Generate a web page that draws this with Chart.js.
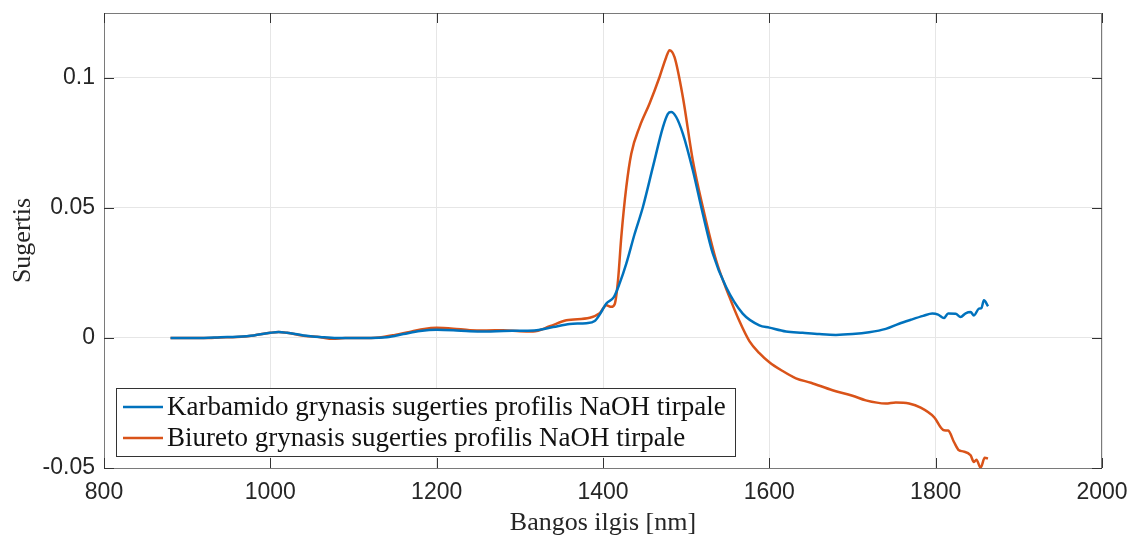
<!DOCTYPE html>
<html>
<head>
<meta charset="utf-8">
<script src="https://cdn.jsdelivr.net/npm/chart.js@4.4.0/dist/chart.umd.min.js"></script>
<style>
  html, body { margin: 0; padding: 0; background: #fff; }
  #wrap { width: 1132px; height: 539px; }
</style>
</head>
<body>
<div id="wrap"><canvas id="c"></canvas></div>
<script>
// wavelength [nm] and absorbance
const karbWl = [880, 900, 920, 940, 960, 980, 1000, 1010, 1020, 1040, 1060, 1080, 1100, 1120, 1140, 1160, 1180, 1200, 1220, 1240, 1260, 1280, 1300, 1320, 1340, 1360, 1380, 1390, 1396, 1404, 1413, 1420, 1428, 1438, 1448, 1460, 1472, 1478, 1482, 1488, 1496, 1508, 1520, 1532, 1548, 1568, 1588, 1600, 1620, 1640, 1660, 1680, 1700, 1720, 1740, 1756, 1770, 1785, 1796, 1803, 1810, 1815, 1824, 1830, 1836, 1842, 1846, 1852, 1855, 1858, 1863];
const karbVal = [0, 0, 0, 0.0003, 0.0005, 0.001, 0.002, 0.0023, 0.002, 0.001, 0.0004, 0, 0, 0, 0.0003, 0.0015, 0.0027, 0.0032, 0.003, 0.0026, 0.0025, 0.0027, 0.0028, 0.003, 0.0042, 0.0054, 0.0057, 0.0065, 0.009, 0.0133, 0.0157, 0.021, 0.0286, 0.04, 0.0504, 0.0658, 0.081, 0.0862, 0.0869, 0.085, 0.0786, 0.0645, 0.0478, 0.0325, 0.0196, 0.0094, 0.0049, 0.004, 0.0025, 0.002, 0.0015, 0.0012, 0.0015, 0.0022, 0.0035, 0.0055, 0.007, 0.0085, 0.0094, 0.009, 0.0077, 0.0094, 0.0093, 0.0081, 0.0095, 0.01, 0.0087, 0.0113, 0.0115, 0.0145, 0.0122];

const biurWl = [880, 900, 920, 940, 960, 980, 1000, 1010, 1020, 1040, 1060, 1075, 1090, 1110, 1130, 1150, 1170, 1185, 1200, 1220, 1240, 1260, 1280, 1300, 1316, 1336, 1356, 1384, 1396, 1404, 1410, 1414, 1418, 1422, 1428, 1434, 1444, 1456, 1468, 1476, 1480, 1486, 1496, 1508, 1520, 1536, 1552, 1564, 1576, 1588, 1600, 1615, 1632, 1650, 1676, 1700, 1716, 1740, 1752, 1768, 1782, 1798, 1810, 1815, 1822, 1828, 1833, 1842, 1846, 1849, 1854, 1859, 1863];
const biurVal = [0, 0, 0, 0.0002, 0.0004, 0.001, 0.002, 0.0023, 0.002, 0.0009, 0.0003, -0.0003, 0, 0, 0.0002, 0.0012, 0.0025, 0.0035, 0.0039, 0.0036, 0.003, 0.0029, 0.003, 0.0026, 0.0025, 0.0045, 0.0068, 0.0078, 0.0095, 0.0126, 0.012, 0.013, 0.022, 0.0389, 0.058, 0.0709, 0.0812, 0.0902, 0.1004, 0.108, 0.1107, 0.108, 0.0927, 0.0683, 0.0504, 0.0299, 0.0158, 0.0065, -0.0012, -0.0058, -0.0093, -0.0125, -0.0155, -0.0172, -0.0201, -0.0222, -0.024, -0.0252, -0.0248, -0.0252, -0.0268, -0.0304, -0.0355, -0.0356, -0.04, -0.0432, -0.0436, -0.0451, -0.0477, -0.0468, -0.0499, -0.0461, -0.0463];

const seriesNames = ['Karbamido grynasis sugerties profilis NaOH tirpale', 'Biureto grynasis sugerties profilis NaOH tirpale'];
const xTicks = [800, 1000, 1200, 1400, 1600, 1800, 2000];
const yTicks = [-0.05, 0, 0.05, 0.1];

const toPoints = (xs, ys) => xs.map((x, i) => ({ x: x, y: ys[i] }));

// MATLAB style box: inward ticks, top/right border, legend inside the axes
const boxPlugin = {
    id: 'box',
    afterDraw(chart) {
        const ctx = chart.ctx;
        const a = chart.chartArea;
        const sx = chart.scales.x, sy = chart.scales.y;
        ctx.save();
        ctx.strokeStyle = '#7a7a7a';
        ctx.lineWidth = 1;
        ctx.strokeRect(a.left + 0.5, a.top + 0.5, a.right - a.left - 1, a.bottom - a.top);
        ctx.strokeStyle = '#333';
        xTicks.forEach(v => {
            const px = Math.round(sx.getPixelForValue(v)) + 0.5;
            ctx.beginPath();
            ctx.moveTo(px, a.bottom); ctx.lineTo(px, a.bottom - 10);
            ctx.moveTo(px, a.top); ctx.lineTo(px, a.top + 10);
            ctx.stroke();
        });
        yTicks.forEach(v => {
            const py = Math.round(sy.getPixelForValue(v)) + 0.5;
            ctx.beginPath();
            ctx.moveTo(a.left, py); ctx.lineTo(a.left + 10, py);
            ctx.moveTo(a.right, py); ctx.lineTo(a.right - 10, py);
            ctx.stroke();
        });

        // legend
        const lx = a.left + 12, lw = 619, lh = 68;
        const ly = a.bottom - 12 - lh;
        ctx.fillStyle = '#fff';
        ctx.fillRect(lx, ly, lw, lh);
        ctx.strokeStyle = '#333';
        ctx.strokeRect(lx + 0.5, ly + 0.5, lw, lh);
        ctx.font = '27px "Liberation Serif", "Times New Roman", serif';
        ctx.textBaseline = 'middle';
        chart.data.datasets.forEach((ds, i) => {
            const cy = ly + 19 + i * 31;
            ctx.strokeStyle = ds.borderColor;
            ctx.lineWidth = 2.5;
            ctx.beginPath();
            ctx.moveTo(lx + 7, cy); ctx.lineTo(lx + 47, cy);
            ctx.stroke();
            ctx.fillStyle = '#111';
            ctx.fillText(ds.label, lx + 51, cy + 1);
        });
        ctx.restore();
    }
};

const tickFont = { family: '"Liberation Sans", Arial, sans-serif', size: 23 };
const titleFont = { family: '"Liberation Serif", "Times New Roman", serif', size: 26 };

new Chart(document.getElementById('c').getContext('2d'), {
    type: 'line',
    data: {
        datasets: [
            {
                label: seriesNames[0],
                data: toPoints(karbWl, karbVal),
                borderColor: '#0072BD',
                borderWidth: 2.5,
                pointRadius: 0,
                cubicInterpolationMode: 'monotone',
                fill: false
            },
            {
                label: seriesNames[1],
                data: toPoints(biurWl, biurVal),
                borderColor: '#D95319',
                borderWidth: 2.5,
                pointRadius: 0,
                cubicInterpolationMode: 'monotone',
                fill: false
            }
        ]
    },
    options: {
        responsive: true,
        maintainAspectRatio: false,
        animation: false,
        layout: { padding: { top: 13, right: 30, left: 0, bottom: 0 } },
        plugins: {
            legend: { display: false },
            tooltip: { enabled: false }
        },
        scales: {
            x: {
                type: 'linear',
                min: 800,
                max: 2000,
                afterFit: s => { s.height = 71; s.paddingLeft = 0; s.paddingRight = 0; },
                afterBuildTicks: s => { s.ticks = xTicks.map(v => ({ value: v })); },
                ticks: { font: tickFont, color: '#262626', padding: 11, maxRotation: 0, callback: v => String(v) },
                grid: { color: '#e6e6e6', drawTicks: false },
                border: { display: false },
                title: { display: true, text: 'Bangos ilgis [nm]', font: titleFont, color: '#262626', padding: { top: 0, bottom: 0 } }
            },
            y: {
                type: 'linear',
                min: -0.05,
                max: 0.125,
                afterFit: s => { s.width = 104; s.paddingTop = 0; s.paddingBottom = 0; },
                afterBuildTicks: s => { s.ticks = yTicks.map(v => ({ value: v })); },
                ticks: {
                    font: tickFont,
                    color: '#262626',
                    padding: 9,
                    callback: v => String(Math.round(v * 100) / 100)
                },
                grid: { color: '#e6e6e6', drawTicks: false },
                border: { display: false },
                title: { display: true, text: 'Sugertis', font: titleFont, color: '#262626', padding: { top: 8, bottom: 6 } }
            }
        }
    },
    plugins: [boxPlugin]
});
</script>
</body>
</html>
